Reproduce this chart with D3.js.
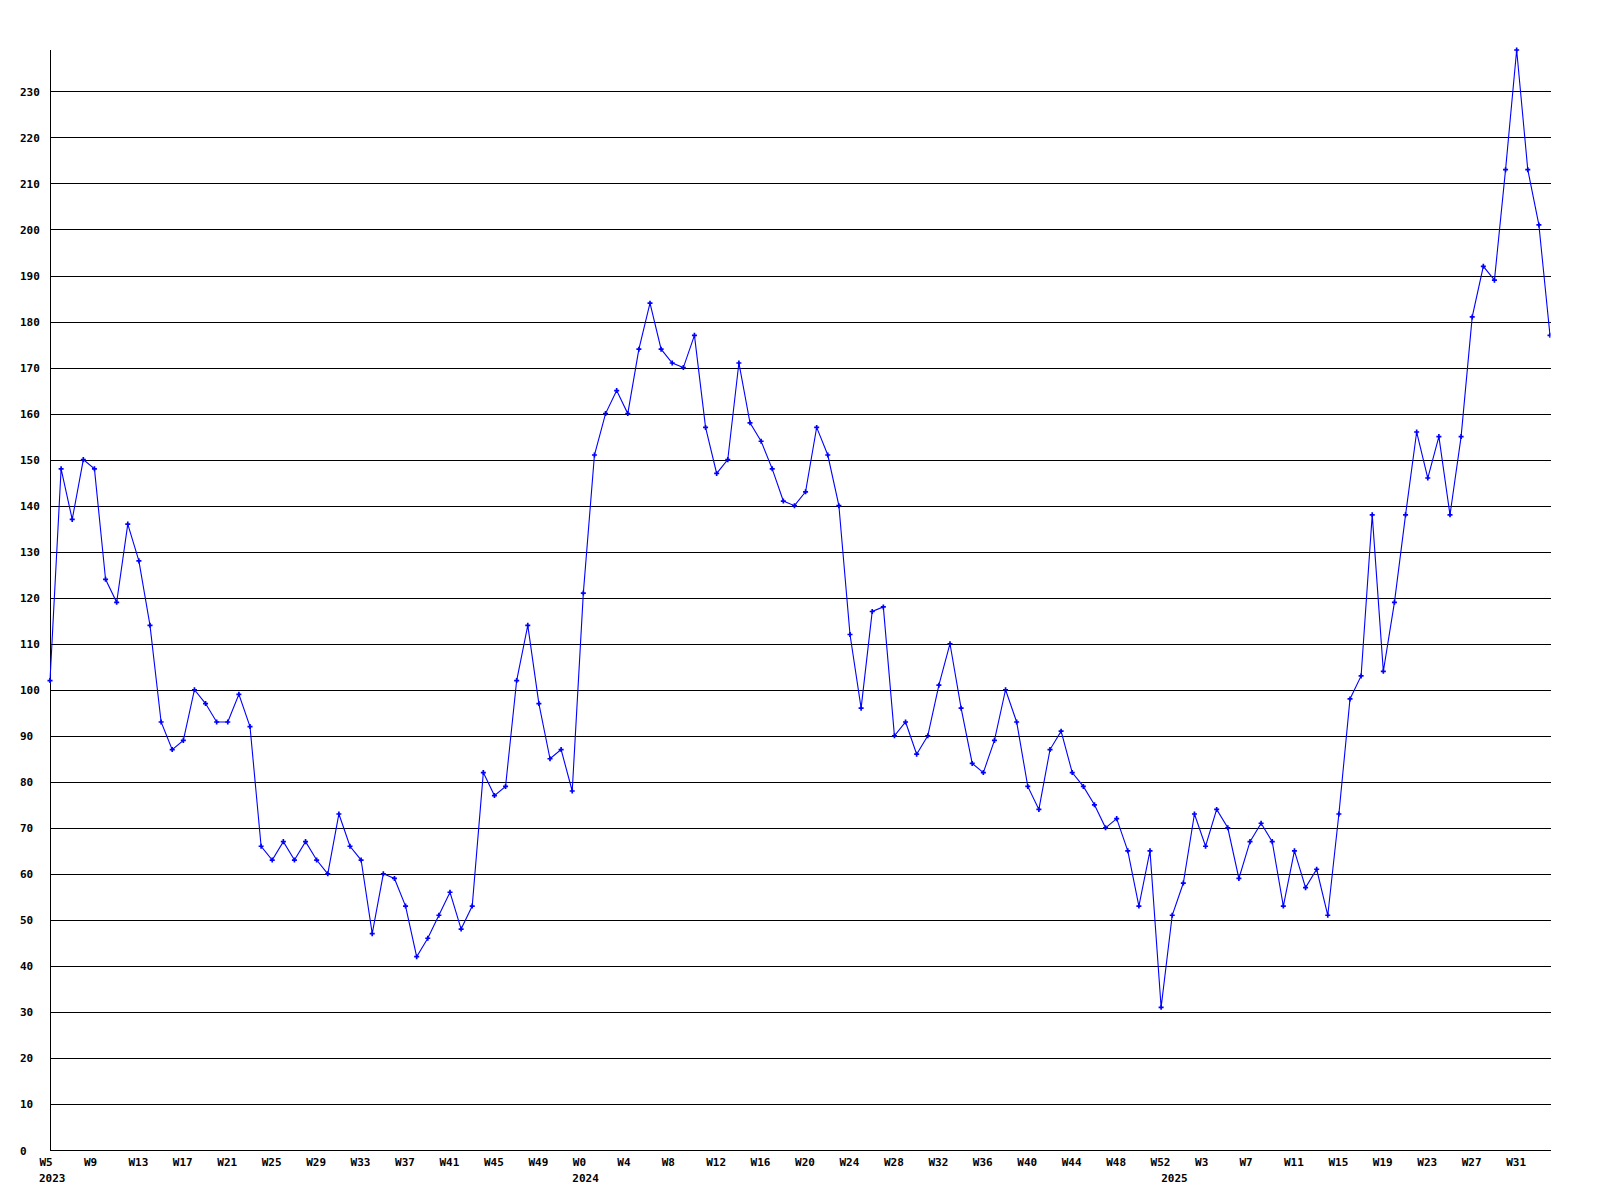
<!DOCTYPE html>
<html>
<head>
<meta charset="utf-8">
<script src="https://cdn.jsdelivr.net/npm/d3@7"></script>
<style>
  html, body { margin: 0; padding: 0; background: #fff; }
  svg { display: block; }
  text { font-family: "DejaVu Sans Mono", "Liberation Mono", monospace; font-weight: bold; font-size: 11px; fill: #000; }
</style>
</head>
<body>
<svg id="chart" width="1600" height="1200"></svg>
<script>
// ---- data ----
const years = [2023, 2024, 2025];
const weeks2023 = d3.range(5, 53);   // W5..W52
const weeks2024 = d3.range(0, 53);   // W0..W52
const weeks2025 = d3.range(0, 35);   // W0..W34
const values2023 = [102,148,137,150,148,124,119,136,128,114,93,87,89,100,97,93,93,99,92,66,
                    63,67,63,67,63,60,73,66,63,47,60,59,53,42,46,51,56,48,53,82,
                    77,79,102,114,97,85,87,78];
const values2024 = [121,151,160,165,160,174,184,174,171,170,177,157,147,150,171,158,154,148,141,140,
                    143,157,151,140,112,96,117,118,90,93,86,90,101,110,96,84,82,89,100,93,
                    79,74,87,91,82,79,75,70,72,65,53,65,31];
const values2025 = [51,58,73,66,74,70,59,67,71,67,53,65,57,61,51,73,98,103,138,104,
                    119,138,156,146,155,138,155,181,192,189,213,239,213,201,177];
const yTickValues = d3.range(0, 240, 10);
const xTickEvery = 4;

// ---- build records ----
const data = [];
[[2023, weeks2023, values2023], [2024, weeks2024, values2024], [2025, weeks2025, values2025]]
  .forEach(([yr, wks, vals]) => wks.forEach((w, i) => data.push({ key: yr + "-W" + w, year: yr, week: w, value: vals[i] })));

// ---- layout ----
const mLeft = 50, mRight = 1550, mTop = 50, mBottom = 1150;
const svg = d3.select("#chart");
svg.append("rect").attr("width", 1600).attr("height", 1200).attr("fill", "#fff");

const x = d3.scalePoint().domain(data.map(d => d.key)).range([mLeft, mRight]);
const y = d3.scaleLinear().domain([0, d3.max(data, d => d.value)]).range([mBottom, mTop]);

// y axis with gridlines
const yAxis = svg.append("g")
  .attr("transform", `translate(${mLeft},0)`)
  .call(d3.axisLeft(y).tickValues(yTickValues).tickSize(-(mRight - mLeft + 1)).tickFormat(d3.format("d")));
yAxis.select(".domain").remove();
yAxis.selectAll(".tick line").attr("stroke", "#000").attr("shape-rendering", "crispEdges");
yAxis.selectAll(".tick text")
  .attr("x", -30).attr("dy", null).attr("y", 4)
  .attr("text-anchor", "start");
yAxis.attr("font-family", null).attr("font-size", null);

// x axis
const tickKeys = data.filter((d, i) => i % xTickEvery === 0).map(d => d.key);
const xAxis = svg.append("g")
  .attr("transform", `translate(0,${mBottom})`)
  .call(d3.axisBottom(x).tickValues(tickKeys).tickSize(0).tickFormat(k => "W" + k.split("-W")[1]));
xAxis.select(".domain").remove();
xAxis.attr("font-family", null).attr("font-size", null);
xAxis.selectAll(".tick text")
  .attr("text-anchor", "start").attr("x", -11).attr("y", 16).attr("dy", null);

// year labels under first week of each year
years.forEach(yr => {
  const first = data.find(d => d.year === yr);
  svg.append("text")
    .attr("x", x(first.key) - 11).attr("y", 1182)
    .attr("text-anchor", "start")
    .text(yr);
});

// axis lines
svg.append("line").attr("x1", mLeft + 0.5).attr("x2", mLeft + 0.5).attr("y1", mTop).attr("y2", mBottom + 0.5)
  .attr("stroke", "#000").attr("shape-rendering", "crispEdges");
svg.append("line").attr("x1", mLeft).attr("x2", mRight + 1).attr("y1", mBottom + 0.5).attr("y2", mBottom + 0.5)
  .attr("stroke", "#000").attr("shape-rendering", "crispEdges");

// series
svg.append("clipPath").attr("id", "plotclip")
  .append("rect").attr("x", mLeft - 5).attr("y", mTop - 5).attr("width", mRight - mLeft + 5.5).attr("height", mBottom - mTop + 10);

const plot = svg.append("g").attr("clip-path", "url(#plotclip)");
plot.append("path")
  .datum(data)
  .attr("fill", "none")
  .attr("stroke", "#0000ff")
  .attr("stroke-width", 1.1)
  .attr("d", d3.line().x(d => x(d.key)).y(d => y(d.value)));

plot.selectAll(".mk")
  .data(data)
  .join("path")
  .attr("class", "mk")
  .attr("transform", d => `translate(${x(d.key)},${y(d.value)})`)
  .attr("d", d3.symbol(d3.symbolCross, 14))
  .attr("fill", "#0000ff");
</script>
</body>
</html>
